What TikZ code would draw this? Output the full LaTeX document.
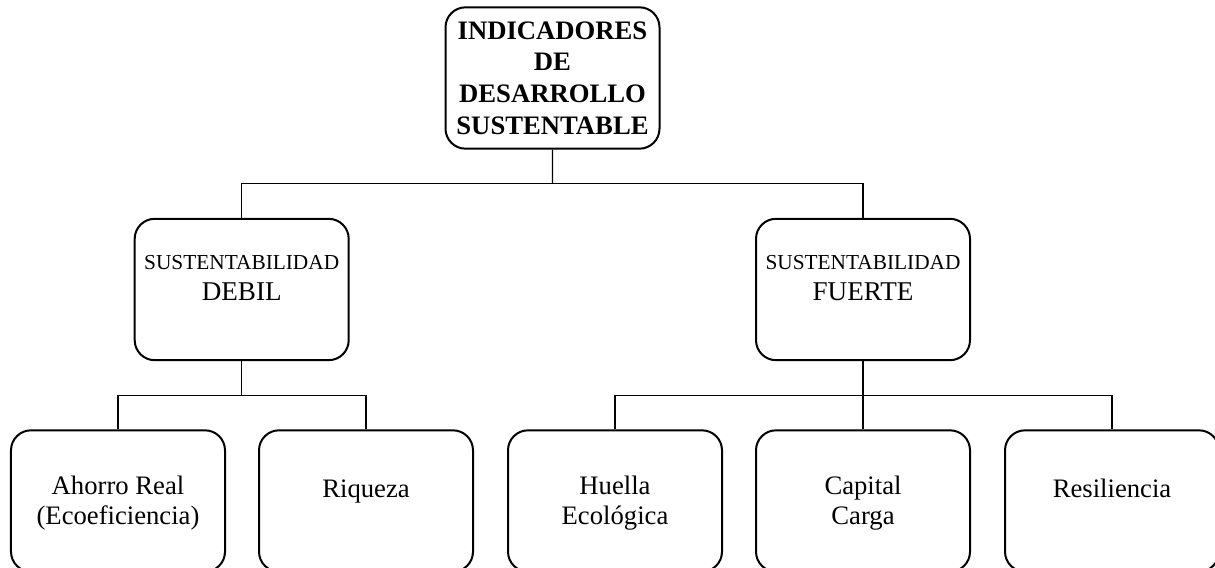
\documentclass[tikz,border=0pt]{standalone}
\usepackage{fontspec}
\setmainfont{Liberation Serif}
\usetikzlibrary{positioning,calc}

\tikzset{
  box/.style={draw, line width=0.9pt, rounded corners=9pt,
    minimum width=96.3pt, minimum height=63.6pt, inner sep=0pt},
  boxtxt/.style={inner sep=0pt, align=center, font=\fontsize{12}{13.5}\selectfont,
    execute at begin node=\strut},
  midtxt/.style={inner sep=0pt, align=center, font=\fontsize{9.6}{11.5}\selectfont,
    execute at begin node=\strut},
  link/.style={line width=0.5pt}
}

\begin{document}
\begin{tikzpicture}[x=0.45pt, y=-0.45pt]
    \useasboundingbox (0,0) rectangle (1215,568);
    \clip (0,0) rectangle (1215,568);

    % raiz
    \node[box] (top) at (552.5,78) {};
    \node[inner sep=0pt, align=center, font=\bfseries\fontsize{12}{14.3}\selectfont] (top-t)
      at (top.center) {INDICADORES\\DE\\DESARROLLO\\SUSTENTABLE};

    % nivel 2
    \node[box] (debil) at (241.7,289.5) {};
    \node[midtxt, below=16.8pt of debil.north] (debil-t)
      {SUSTENTABILIDAD\\[2.4pt]\fontsize{12.2}{13.5}\selectfont DEBIL};

    \node[box] (fuerte) at (863,289.5) {};
    \node[midtxt, below=16.8pt of fuerte.north] (fuerte-t)
      {SUSTENTABILIDAD\\[2.4pt]\fontsize{12.2}{13.5}\selectfont FUERTE};

    % nivel 3
    \node[box] (ahorro) at (118,501) {};
    \node[boxtxt, below=21pt of ahorro.north] (ahorro-t) {Ahorro Real\\(Ecoeficiencia)};

    \node[box] (riqueza) at (366,501) {};
    \node[boxtxt, below=21pt of riqueza.north] (riqueza-t) {Riqueza};

    \node[box] (huella) at (615,501) {};
    \node[boxtxt, below=21pt of huella.north] (huella-t) {Huella\\Ecológica};

    \node[box] (capital) at (863,501) {};
    \node[boxtxt, below=21pt of capital.north] (capital-t) {Capital\\Carga};

    \node[box] (resil) at (1112,501) {};
    \node[boxtxt, below=21pt of resil.north] (resil-t) {Resiliencia};

    % conectores
    \coordinate (bus1) at ($(top.south)!0.5!(top.south |- debil.north)$);
    \coordinate (bus2) at ($(debil.south)!0.5!(debil.south |- ahorro.north)$);
    \coordinate (bus3) at ($(fuerte.south)!0.5!(fuerte.south |- capital.north)$);

    \draw[link] (top.south) -- (bus1);
    \draw[link] (debil.north) |- (bus1) -| (fuerte.north);

    \draw[link] (debil.south) -- (bus2);
    \draw[link] (ahorro.north) |- (bus2) -| (riqueza.north);

    \draw[link] (fuerte.south) -- (capital.north);
    \draw[link] (huella.north) |- (bus3) -| (resil.north);
\end{tikzpicture}
\end{document}
